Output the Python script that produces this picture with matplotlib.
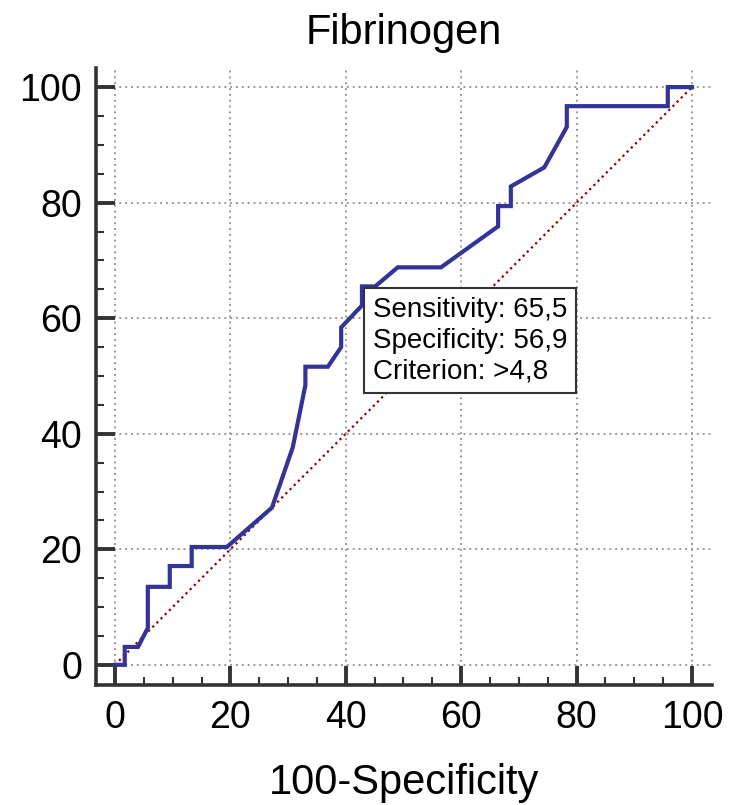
import matplotlib.pyplot as plt
from matplotlib.ticker import MultipleLocator

plt.rcParams['font.family'] = ['Liberation Sans', 'DejaVu Sans']

# ROC curve points (100-Specificity, Sensitivity)
fpr = [0, 1.7, 1.7, 4.0, 5.7, 5.7, 9.5, 9.5, 13.3, 13.3, 19.4, 27.2, 30.8, 33.0,
       33.0, 36.9, 39.2, 39.2, 42.8, 42.8, 45.1, 49.0, 56.5, 66.4, 66.4, 68.6,
       68.6, 74.4, 78.3, 78.3, 95.8, 95.8, 100]
tpr = [0, 0, 3.1, 3.1, 6.4, 13.5, 13.5, 17.1, 17.1, 20.4, 20.4, 27.2, 37.6, 48.4,
       51.6, 51.6, 55.0, 58.4, 62.2, 65.5, 65.5, 68.8, 68.8, 75.9, 79.4, 79.4,
       82.8, 86.1, 93.1, 96.7, 96.7, 100, 100]

info_lines = ['Sensitivity: 65,5', 'Specificity: 56,9', 'Criterion: >4,8']

fig = plt.figure(figsize=(7.32, 8.05), dpi=100)
ax = fig.add_axes([0.131, 0.149, 0.842, 0.7665])

ax.plot([0, 100], [0, 100], linestyle=':', color='#8b0000', linewidth=1.6, zorder=2)
ax.plot(fpr, tpr, color='#333399', linewidth=3.0, solid_joinstyle='miter', zorder=3)

ax.set_xlim(-3.3, 103.5)
ax.set_ylim(-3.5, 103.3)

ax.xaxis.set_major_locator(MultipleLocator(20))
ax.yaxis.set_major_locator(MultipleLocator(20))
ax.xaxis.set_minor_locator(MultipleLocator(5))
ax.yaxis.set_minor_locator(MultipleLocator(5))

ax.grid(True, which='major', linestyle=(0, (1, 2)), color='#999999', linewidth=1.4, zorder=1)

for side in ['top', 'right']:
    ax.spines[side].set_visible(False)
for side in ['left', 'bottom']:
    ax.spines[side].set_color('#333333')
    ax.spines[side].set_linewidth(2.6)

ax.tick_params(which='major', direction='in', length=13.7, width=2.8, color='#333333',
               labelsize=27, pad=10)
ax.tick_params(which='minor', direction='in', length=5.5, width=1.5, color='#333333')
ax.tick_params(axis='x', which='major', pad=11)

ax.set_title('Fibrinogen', fontsize=30, pad=17)
ax.set_xlabel('100-Specificity', fontsize=30, labelpad=19)

ax.text(44.7, 63.6, '\n'.join(info_lines), fontsize=20, va='top', ha='left',
        linespacing=1.22, zorder=5,
        bbox=dict(boxstyle='square,pad=0.32', facecolor='white', edgecolor='#333333',
                  linewidth=1.5))

fig.savefig('out.png', dpi=100)
